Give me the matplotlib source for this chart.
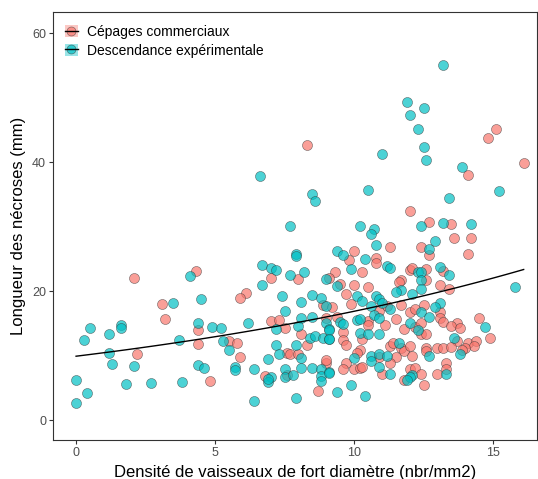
import numpy as np
import matplotlib
matplotlib.use("Agg")
import matplotlib.pyplot as plt
from matplotlib.lines import Line2D
from matplotlib.patches import Patch
from matplotlib.legend_handler import HandlerTuple

plt.rcParams["font.family"] = ["Liberation Sans", "DejaVu Sans"]

groups = ["Cépages commerciaux", "Descendance expérimentale"]
colors = ["#F8766D", "#00BFC4"]

# Cépages commerciaux
comm_x = [2.1, 2.2, 3.1, 3.2, 4.3, 4.4, 4.4, 4.8, 8.3, 7.0,
          8.0, 6.1, 5.9, 8.9, 7.0, 7.3, 7.5, 9.0, 5.5, 5.8,
          5.9, 7.6, 7.7, 8.1, 8.3, 8.0, 9.0, 9.0, 6.8, 7.6,
          8.7, 12.0, 12.7, 11.3, 12.4, 10.0, 9.8, 10.8, 10.8, 9.3,
          10.3, 12.0, 12.1, 12.6, 9.1, 11.7, 11.6, 9.5, 10.0, 10.5,
          12.6, 9.2, 9.7, 9.9, 10.9, 11.2, 12.0, 12.2, 12.5, 11.7,
          9.4, 9.6, 9.6, 9.7, 10.5, 10.5, 11.1, 11.5, 11.8, 12.2,
          12.4, 12.4, 12.6, 10.3, 10.2, 10.1, 10.9, 11.3, 11.4, 11.7,
          11.8, 11.5, 12.0, 12.1, 12.6, 9.7, 9.6, 10.0, 10.2, 10.3,
          11.3, 11.0, 12.0, 12.2, 11.8, 12.5, 15.1, 14.8, 14.1, 16.1,
          13.5, 13.6, 14.2, 12.7, 14.1, 13.2, 13.1, 13.4, 13.1, 13.1,
          13.2, 13.7, 13.5, 13.8, 14.5, 14.9, 13.7, 14.1, 14.4, 14.3,
          14.0, 13.9, 12.6, 13.0, 13.2, 13.5, 13.3, 13.3, 13.0, 12.4]
comm_y = [22.0, 10.3, 18.0, 15.6, 23.1, 14.0, 11.8, 6.0, 42.7, 22.0,
          21.9, 19.7, 18.9, 17.8, 15.3, 15.5, 14.3, 15.9, 12.3, 11.9,
          9.7, 10.4, 10.2, 13.3, 11.7, 10.2, 8.9, 9.3, 6.8, 7.0,
          4.5, 32.4, 30.7, 26.8, 26.8, 26.2, 24.8, 25.2, 24.4, 23.0,
          23.0, 23.3, 23.6, 23.5, 22.1, 21.7, 21.4, 21.1, 20.9, 20.6,
          21.8, 17.6, 19.5, 18.0, 16.9, 17.7, 16.8, 17.2, 17.8, 17.9,
          16.0, 13.7, 12.4, 11.6, 15.3, 14.8, 14.8, 15.7, 14.1, 14.5,
          15.0, 13.3, 13.4, 12.5, 10.9, 10.4, 9.8, 11.5, 11.9, 11.1,
          10.7, 9.7, 11.5, 10.0, 11.1, 8.9, 7.9, 7.9, 8.0, 8.2,
          8.8, 7.2, 7.9, 8.0, 6.2, 5.4, 45.1, 43.7, 38.0, 39.9,
          30.4, 28.2, 28.2, 25.6, 25.7, 23.1, 20.9, 20.4, 16.7, 15.9,
          15.2, 15.1, 14.6, 14.3, 15.9, 12.8, 12.2, 11.9, 12.2, 11.5,
          11.1, 10.8, 10.7, 11.2, 11.1, 11.3, 8.8, 7.9, 7.2, 7.2]

# Descendance expérimentale
desc_x = [0.0, 0.0, 0.4, 0.3, 0.5, 1.2, 1.6, 1.6, 1.2, 1.3,
          2.1, 1.8, 2.7, 3.5, 3.7, 3.8, 4.1, 4.5, 4.4, 4.9,
          5.2, 5.3, 4.4, 4.6, 6.6, 8.5, 8.6, 7.7, 7.9, 7.9,
          6.7, 7.0, 7.2, 6.7, 7.7, 8.2, 9.0, 7.4, 8.1, 8.5,
          8.8, 9.0, 7.5, 6.2, 7.2, 8.1, 8.0, 8.5, 9.0, 9.1,
          5.5, 7.2, 7.3, 7.9, 8.4, 8.6, 8.1, 8.9, 9.1, 6.9,
          5.7, 5.7, 6.4, 7.5, 8.1, 8.5, 8.8, 9.1, 7.0, 6.9,
          6.9, 7.5, 7.8, 8.8, 8.8, 6.4, 7.9, 11.0, 12.5, 12.6,
          10.5, 12.4, 10.2, 10.7, 10.6, 10.8, 12.7, 9.4, 9.6, 10.4,
          11.2, 11.3, 9.9, 12.3, 12.4, 12.4, 9.4, 11.7, 12.4, 10.1,
          10.3, 10.8, 10.9, 10.6, 11.0, 11.3, 11.5, 12.1, 12.4, 12.7,
          9.1, 9.5, 9.6, 10.1, 10.2, 10.7, 10.9, 12.0, 12.3, 9.1,
          10.2, 10.5, 10.9, 10.0, 10.6, 10.6, 10.9, 11.2, 11.6, 12.7,
          10.9, 11.3, 9.1, 12.1, 12.0, 11.9, 9.4, 9.9, 10.4, 13.2,
          11.9, 12.5, 12.0, 12.3, 13.9, 15.2, 13.4, 13.2, 14.2, 12.9,
          13.1, 13.4, 15.8, 13.1, 12.9, 14.7, 13.6, 13.8, 13.3]
desc_y = [2.7, 6.2, 4.2, 12.4, 14.3, 13.3, 14.8, 14.3, 10.4, 8.7,
          8.4, 5.6, 5.8, 18.2, 12.4, 5.9, 22.3, 18.8, 15.0, 14.4,
          14.3, 12.2, 8.5, 8.1, 37.9, 35.1, 34.0, 30.1, 25.8, 25.5,
          24.0, 23.6, 23.3, 20.9, 22.5, 22.9, 21.9, 19.3, 18.3, 19.4,
          19.0, 17.7, 16.9, 15.0, 14.1, 15.9, 14.6, 16.0, 15.1, 14.1,
          10.9, 11.7, 10.2, 11.7, 12.8, 13.1, 9.6, 12.8, 12.5, 9.5,
          8.2, 7.7, 7.9, 7.9, 8.0, 8.0, 7.9, 7.5, 6.6, 5.9,
          6.4, 6.6, 7.0, 6.8, 6.1, 2.9, 3.4, 41.2, 42.3, 40.3,
          35.7, 30.1, 30.1, 29.6, 28.8, 27.2, 26.5, 26.2, 25.6, 25.0,
          23.9, 23.6, 23.5, 22.9, 23.0, 21.8, 20.8, 20.2, 20.4, 19.2,
          18.5, 19.2, 18.8, 17.7, 18.1, 17.2, 19.8, 19.5, 16.7, 16.0,
          14.0, 15.2, 14.9, 15.5, 15.7, 16.3, 15.8, 15.0, 14.0, 12.6,
          13.5, 13.3, 13.3, 9.6, 10.0, 9.2, 10.2, 9.9, 11.9, 9.9,
          8.3, 7.2, 7.3, 7.0, 6.6, 6.2, 4.4, 5.4, 3.7, 55.1,
          49.3, 48.4, 47.3, 45.1, 39.2, 35.5, 34.5, 30.6, 30.4, 27.7,
          23.7, 22.5, 20.6, 18.2, 17.5, 14.5, 12.8, 10.2, 7.2]

# log-link trend: ~9.9 at x=0, ~23.4 at x=16.1
trend_intercept = 9.9
trend_rate = 0.0533

all_x = np.array(comm_x + desc_x)
xs = np.linspace(all_x.min(), all_x.max(), 100)
ys = trend_intercept * np.exp(trend_rate * xs)

fig = plt.figure(figsize=(5.38, 4.79), dpi=100)
ax = fig.add_axes([53 / 538, 39 / 479, 484 / 538, 428 / 479])

for xv, yv, col in [(comm_x, comm_y, colors[0]), (desc_x, desc_y, colors[1])]:
    ax.scatter(xv, yv, s=52, color=col, alpha=0.7, edgecolors="#333333",
               linewidths=0.4, zorder=2)
ax.plot(xs, ys, color="black", lw=1.0, zorder=3)

ax.set_xlim(-0.83, 16.58)
ax.set_ylim(-3.1, 63.3)
ax.set_xticks([0, 5, 10, 15])
ax.set_yticks([0, 20, 40, 60])
for sp in ax.spines.values():
    sp.set_color("#333333")
    sp.set_linewidth(0.8)
ax.tick_params(direction="out", length=3, width=0.8, color="#333333",
               labelsize=9, labelcolor="#4D4D4D", pad=2)
ax.set_xlabel("Densité de vaisseaux de fort diamètre (nbr/mm2)", fontsize=12, labelpad=4)
ax.set_ylabel("Longueur des nécroses (mm)", fontsize=12, labelpad=4)

handles = []
for col in colors:
    handles.append((Patch(facecolor=col, alpha=0.4, edgecolor="none"),
                    Line2D([], [], ls="none", marker="o", markersize=6.5,
                           markerfacecolor=col, markeredgecolor="#333333",
                           markeredgewidth=0.4, alpha=0.7),
                    Line2D([], [], color="black", lw=1.0)))
ax.legend(handles, groups, handler_map={tuple: HandlerTuple(ndivide=1)},
          loc="upper left", bbox_to_anchor=(0.025, 0.97), frameon=False,
          fontsize=10, handlelength=0.9, handleheight=0.9, handletextpad=0.7,
          labelspacing=0.35, borderpad=0, borderaxespad=0)

fig.savefig("out.png", dpi=100)
